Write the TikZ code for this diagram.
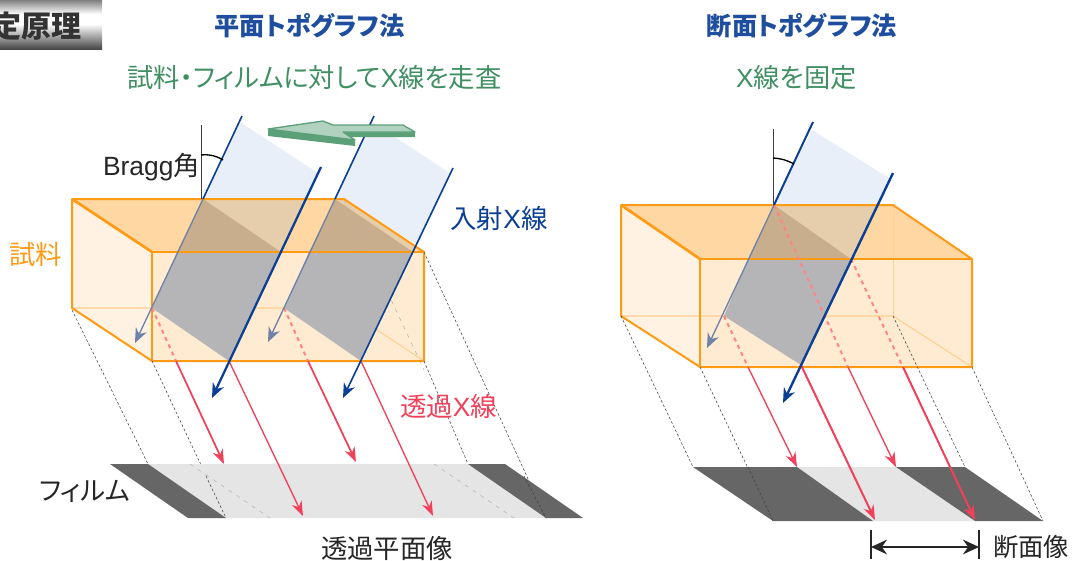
\documentclass[tikz,border=0pt]{standalone}
\usepackage{fontspec}
\setmainfont{Liberation Sans}
\newfontfamily\cjk[RawFeature=+palt]{Noto Sans CJK JP}
\usetikzlibrary{arrows.meta}
\definecolor{beamblue}{HTML}{0A3F94}
\definecolor{beamfade}{HTML}{6F82A8}
\definecolor{sheetblue}{HTML}{E8EFF8}
\definecolor{boxorange}{HTML}{FF9A14}
\definecolor{boxtop}{HTML}{FFD7A3}
\definecolor{boxleft}{HTML}{FFF2E2}
\definecolor{boxfront}{HTML}{FFEBD2}
\definecolor{boxback}{HTML}{FFCF90}
\definecolor{sheetup}{HTML}{E6CEAC}
\definecolor{sheetdown}{HTML}{C9AE8E}
\definecolor{sheetgray}{HTML}{B5B5B8}
\definecolor{transred}{HTML}{F0405A}
\definecolor{transfade}{HTML}{FF8585}
\definecolor{titleblue}{HTML}{1F4E9F}
\definecolor{scangreen}{HTML}{3F8F62}
\definecolor{filmdark}{HTML}{666666}
\definecolor{filmlight}{HTML}{E5E5E5}
\tikzset{
  xbeam/.style={draw=beamblue, line width=#1, -{Stealth[length=11pt,width=9pt]}},
  xbeam/.default=1.2pt,
  xfade/.style={draw=beamfade, line width=1pt, -{Stealth[length=11pt,width=9pt]}},
  xred/.style={draw=transred, line width=#1, -{Stealth[length=11pt,width=8pt]}},
  xred/.default=1pt,
  xdash/.style={draw=transfade, line width=1.5pt, dash pattern=on 3pt off 3pt},
  guide/.style={draw=black!75, line width=.4pt, dash pattern=on 2pt off 1.5pt},
  guidefaint/.style={draw=black!30, line width=.4pt, dash pattern=on 3pt off 4pt},
  edge/.style={draw=boxorange, line width=1.5pt, line join=round},
  lbl/.style={inner sep=0pt, font=\fontsize{19.8pt}{19.8pt}\selectfont},
  ttl/.style={inner sep=0pt, text=titleblue, font=\cjk\bfseries\fontsize{18.9pt}{18.9pt}\selectfont},
  sub/.style={inner sep=0pt, text=scangreen, font=\fontsize{19.7pt}{19.7pt}\selectfont}
}
\begin{document}
\begin{tikzpicture}[x=.75pt,y=-.75pt]
\useasboundingbox (0,0) rectangle (1072,561);

% header
\begin{scope}
\clip (0,0) rectangle (102,49);
\shade[top color=black!50, bottom color=white] (0,0) rectangle (102,14);
\fill[white] (0,14) rectangle (102,24);
\shade[top color=white, bottom color=black!72] (0,24) rectangle (102,49);
\node[inner sep=0pt, text=black!80, font=\cjk\bfseries\fontsize{22.5pt}{22.5pt}\selectfont] (header) at (37,26) {定原理};
\end{scope}

% left sheets above the box
\fill[sheetblue] (240,122) -- (318,173) -- (281,252) -- (203,199) -- cycle;
\fill[sheetblue] (372,122) -- (450,173) -- (413,252) -- (335,199) -- cycle;

% left box
\fill[boxleft] (72,199) -- (152,252) -- (152,361) -- (72,308) -- cycle;
\fill[boxfront] (152,252) rectangle (424,361);
\fill[boxtop] (72,199) -- (344,199) -- (424,252) -- (152,252) -- cycle;
\draw[boxback, line width=.8pt] (72,308) -- (344,308) -- (424,361);
\draw[sheetdown, line width=.6pt] (344,199) -- (344,308);

% left sheets in the box
\fill[sheetup] (203,199) -- (306,199) -- (281,252) -- cycle;
\fill[sheetdown] (203,199) -- (281,252) -- (177,252) -- cycle;
\fill[sheetgray] (177,252) -- (281,252) -- (229,361) -- (152,308) -- cycle;
\fill[sheetup] (335,199) -- (438,199) -- (413,252) -- cycle;
\fill[sheetdown] (335,199) -- (413,252) -- (309,252) -- cycle;
\fill[sheetgray] (309,252) -- (413,252) -- (361,361) -- (284,308) -- cycle;
\fill[white] (344,199) -- (438,199) -- (424,252) -- cycle;
\fill[sheetblue] (344,199) -- (438,199) -- (417,245) -- cycle;
\draw[guidefaint] (344,199) -- (424,370);

\draw[edge] (72,308) -- (72,199) -- (344,199) -- (424,252) -- (424,361) -- (152,361) -- cycle;
\draw[edge] (152,361) -- (152,252) -- (424,252);
\draw[edge, line width=2pt] (72,199) -- (152,252);

% left guides
\draw[guide] (72,310) -- (148,464);
\draw[guide] (152,361) -- (226,518);
\draw[guide] (424,361) -- (468,464);
\draw[guide] (424,252) -- (546,518);

% left film
\fill[filmlight] (110,464) -- (505,464) -- (583,518) -- (188,518) -- cycle;
\fill[filmdark] (110,464) -- (148,464) -- (226,518) -- (188,518) -- cycle;
\fill[filmdark] (468,464) -- (505,464) -- (583,518) -- (546,518) -- cycle;
\draw[guidefaint] (190,464) -- (270,518);
\draw[guidefaint] (434,464) -- (514,518);
\draw[guide] (206,476) -- (226,518);
\draw[guide] (524,476) -- (546,518);

% left transmitted beams
\draw[xdash] (152,308) -- (176,361);
\draw[xdash] (284,308) -- (308,361);
\draw[xred=1.3pt] (176,361) -- (224,464);
\draw[xred] (229,361) -- (303,516);
\draw[xred=1.3pt] (308,361) -- (356,462);
\draw[xred] (361,361) -- (433,516);

% left incident beams
\draw[draw=beamblue, line width=1.2pt] (242,116) -- (203,199);
\draw[xfade] (203,199) -- (135,343);
\draw[draw=beamblue, line width=1.2pt] (374,116) -- (335,199);
\draw[xfade] (335,199) -- (268,342);
\draw[xbeam=1.7pt] (321,167) -- (212,398);
\draw[xbeam] (453,168) -- (343,398);

% Bragg angle
\draw[black!75, line width=.5pt] (201,125) -- (201,199);
\draw[black, line width=1pt] (201,155) to[bend left=18] (223,160);

% scan arrow
\fill[scangreen!85!white] (268,129) -- (355,140) -- (355,146) -- (268,136) -- cycle;
\fill[scangreen!85!white] (343,132) -- (415,132) -- (415,137) -- (350,137) -- cycle;
\filldraw[fill=scangreen!40!white, draw=scangreen!85!white, line width=1pt, line join=round] (268,129) -- (323,121) -- (333,125) -- (403,125) -- (415,132) -- (343,132) -- (355,140) -- cycle;

% right sheet above the box
\fill[sheetblue] (812,130) -- (889,178) -- (851,259) -- (774,205) -- cycle;

% right box
\fill[boxleft] (621,205) -- (700,259) -- (700,367) -- (621,316) -- cycle;
\fill[boxfront] (700,259) rectangle (972,367);
\fill[boxtop] (621,205) -- (893,205) -- (972,259) -- (700,259) -- cycle;
\draw[boxback, line width=.8pt] (621,316) -- (893,316) -- (972,367);
\draw[boxback, line width=.6pt] (893,205) -- (893,316);

% right sheet in the box
\fill[sheetup] (774,205) -- (878,205) -- (851,259) -- cycle;
\fill[sheetdown] (774,205) -- (851,259) -- (748,259) -- cycle;
\fill[sheetgray] (748,259) -- (851,259) -- (801,365) -- (724,316) -- cycle;

\draw[edge] (621,316) -- (621,205) -- (893,205) -- (972,259) -- (972,367) -- (700,367) -- cycle;
\draw[edge] (700,367) -- (700,259) -- (972,259);
\draw[edge, line width=2pt] (621,205) -- (700,259);

% right guides
\draw[guide] (621,316) -- (693,467);
\draw[guide] (700,367) -- (773,521);
\draw[guide] (893,316) -- (965,467);
\draw[guide] (972,367) -- (1043,521);

% right film
\fill[filmlight] (797,467) -- (896,467) -- (975,521) -- (873,521) -- cycle;
\fill[filmdark] (693,467) -- (797,467) -- (873,521) -- (773,521) -- cycle;
\fill[filmdark] (896,467) -- (965,467) -- (1043,521) -- (975,521) -- cycle;
\draw[guide] (748,467) -- (773,521);

% right transmitted beams
\draw[xdash] (724,316) -- (748,367);
\draw[xdash] (774,205) -- (848,367);
\draw[xdash] (851,259) -- (903,367);
\draw[xred] (748,367) -- (797,467);
\draw[xred=1.5pt] (801,365) -- (875,520);
\draw[xred] (848,367) -- (896,467);
\draw[xred=1.5pt] (903,367) -- (975,520);

% right incident beams
\draw[draw=beamblue, line width=1.5pt] (813,122) -- (774,205);
\draw[xfade] (774,205) -- (707,348);
\draw[xbeam=1.8pt] (893,173) -- (783,403);

% Bragg angle
\draw[black!75, line width=.5pt] (773,129) -- (773,205);
\draw[black, line width=1pt] (773,158) to[bend left=12] (794,164);

% width of the section image
\coordinate (secl) at (871,547);
\coordinate (secr) at (979,547);
\draw[black!85, line width=.8pt] (871,530) -- (871,559);
\draw[black!85, line width=.8pt] (979,530) -- (979,559);
\draw[{Stealth[length=12pt,width=11pt]}-{Stealth[length=12pt,width=11pt]}, black!85, line width=1pt] (secl) -- (secr);

% labels
\node[ttl] (titleplane) at (309.5,26) {平面トポグラフ法};
\node[ttl] (titlesection) at (802,26) {断面トポグラフ法};
\node[sub] (subscan) at (314.5,78) {{\cjk 試料・フィルムに対して}X{\cjk 線を走査}};
\node[sub] (subfix) at (796.5,78) {X{\cjk 線を固定}};
\node[lbl, text=black!85] (bragg) at (151.5,167) {Bragg{\cjk 角}};
\node[lbl, text=beamblue] (incident) at (499,218) {{\cjk 入射}X{\cjk 線}};
\node[lbl, text=boxorange] (sample) at (36,254) {\cjk 試料};
\node[lbl, text=transred] (transmit) at (448.5,406) {{\cjk 透過}X{\cjk 線}};
\node[lbl, text=black!85] (film) at (84.5,491) {\cjk フィルム};
\node[lbl, text=black!85] (imageplane) at (387,548) {\cjk 透過平面像};
\node[inner sep=0pt, text=black!85, font=\cjk\fontsize{19pt}{19pt}\selectfont] (imagesection) at (1031,547) {断面像};

\end{tikzpicture}
\end{document}
